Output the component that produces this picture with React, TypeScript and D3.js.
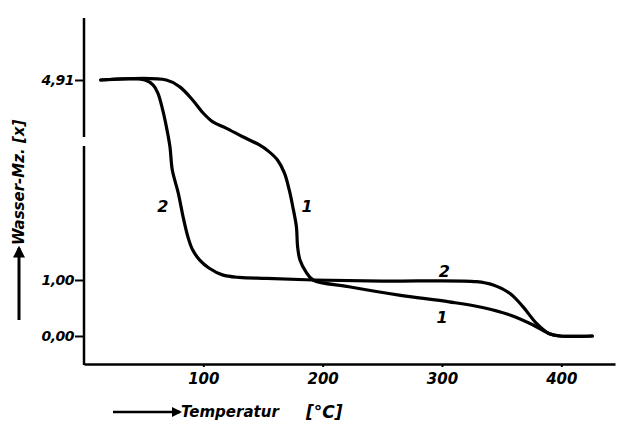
import { useEffect, useRef } from "react";
import * as d3 from "d3";

// Curve 1 (slow heating)
const temps1 = [14, 69, 80, 91, 100, 108, 119, 133, 147, 155, 162, 168, 172, 175, 178, 179, 181, 186, 192, 222, 264, 306, 334, 357, 376, 390, 399, 426];
const water1 = [4.91, 4.91, 4.78, 4.52, 4.26, 4.09, 3.97, 3.8, 3.64, 3.51, 3.35, 3.09, 2.76, 2.43, 2.04, 1.65, 1.39, 1.16, 1.0, 0.88, 0.73, 0.61, 0.51, 0.375, 0.2, 0.04, 0.0, 0.0];

// Curve 2 (fast heating)
const temps2 = [14, 51, 58, 62, 66, 69, 72, 74, 79, 83, 87, 91, 97, 105, 116, 130, 153, 192, 250, 329, 343, 357, 368, 379, 390, 399, 426];
const water2 = [4.91, 4.91, 4.81, 4.65, 4.32, 4.0, 3.61, 3.15, 2.7, 2.24, 1.85, 1.59, 1.39, 1.23, 1.1, 1.05, 1.03, 1.0, 0.98, 0.97, 0.91, 0.76, 0.52, 0.23, 0.04, 0.0, 0.0];

const xTicks = [100, 200, 300, 400];
const yTicks = [0, 1, 4.91];
const yTickLabels = ["0,00", "1,00", "4,91"];

const App = () => {
  const ref = useRef<SVGSVGElement | null>(null);

  useEffect(() => {
    const svg = d3.select(ref.current);
    svg.selectAll("*").remove();

    const font = "'DejaVu Sans', sans-serif";

    // broken y axis: lower part 0..1, upper part 1..4.91 compressed
    const x = d3.scaleLinear().domain([0, 445]).range([84, 615]);
    const y = d3.scaleLinear().domain([0, 1, 4.91]).range([336, 280, 80]);

    // x axis
    const xAxis = svg
      .append("g")
      .attr("transform", `translate(0,364)`)
      .call(d3.axisBottom(x).tickValues(xTicks).tickSize(3).tickSizeOuter(0).tickPadding(6));
    xAxis.select(".domain").attr("stroke-width", 2.5);
    xAxis.selectAll(".tick line").attr("stroke-width", 2);
    xAxis
      .selectAll("text")
      .attr("font-family", font)
      .attr("font-size", 15)
      .attr("font-weight", "bold")
      .attr("font-style", "italic");

    // y axis
    const yAxis = svg
      .append("g")
      .attr("transform", `translate(84,0)`)
      .call(
        d3
          .axisLeft(y)
          .tickValues(yTicks)
          .tickFormat((d, i) => yTickLabels[i])
          .tickSize(9)
          .tickPadding(1)
      );
    yAxis.select(".domain").remove();
    yAxis.selectAll(".tick line").attr("stroke-width", 2);
    yAxis
      .selectAll("text")
      .attr("font-family", font)
      .attr("font-size", 14)
      .attr("font-weight", "bold")
      .attr("font-style", "italic")
      .attr("letter-spacing", -0.5);

    // y axis line with break
    svg.append("line").attr("x1", 84).attr("x2", 84).attr("y1", 18).attr("y2", 137).attr("stroke", "#000").attr("stroke-width", 2.5);
    svg.append("line").attr("x1", 84).attr("x2", 84).attr("y1", 146).attr("y2", 365).attr("stroke", "#000").attr("stroke-width", 2.5);

    const line = d3
      .line<[number, number]>()
      .x((d) => x(d[0]))
      .y((d) => y(d[1]))
      .curve(d3.curveCatmullRom.alpha(0.5));

    const series = [
      temps1.map((t, i) => [t, water1[i]] as [number, number]),
      temps2.map((t, i) => [t, water2[i]] as [number, number]),
    ];

    svg
      .selectAll("path.curve")
      .data(series)
      .enter()
      .append("path")
      .attr("class", "curve")
      .attr("d", (d) => line(d))
      .attr("fill", "none")
      .attr("stroke", "#000")
      .attr("stroke-width", 3.2)
      .attr("stroke-linejoin", "round")
      .attr("stroke-linecap", "round");

    // curve labels
    const labels = [
      { t: "2", x: 66, y: 2.43 },
      { t: "1", x: 187, y: 2.43 },
      { t: "2", x: 302, y: 1.16 },
      { t: "1", x: 300, y: 0.34 },
    ];
    svg
      .selectAll("text.lbl")
      .data(labels)
      .enter()
      .append("text")
      .attr("class", "lbl")
      .attr("x", (d) => x(d.x))
      .attr("y", (d) => y(d.y))
      .attr("text-anchor", "middle")
      .attr("dy", "0.35em")
      .attr("font-family", font)
      .attr("font-size", 16)
      .attr("font-weight", "bold")
      .attr("font-style", "italic")
      .text((d) => d.t);

    // arrow marker
    svg
      .append("defs")
      .append("marker")
      .attr("id", "arr")
      .attr("viewBox", "0 0 10 10")
      .attr("refX", 8)
      .attr("refY", 5)
      .attr("markerWidth", 4)
      .attr("markerHeight", 4)
      .attr("orient", "auto")
      .append("path")
      .attr("d", "M0,0L10,5L0,10z")
      .attr("fill", "#000");

    // x axis title
    svg.append("line").attr("x1", 113).attr("x2", 180).attr("y1", 412).attr("y2", 412).attr("stroke", "#000").attr("stroke-width", 2.5).attr("marker-end", "url(#arr)");
    svg
      .append("text")
      .attr("x", 181)
      .attr("y", 417)
      .attr("font-family", font)
      .attr("font-size", 15)
      .attr("font-weight", "bold")
      .attr("font-style", "italic")
      .text("Temperatur");
    svg
      .append("text")
      .attr("x", 306)
      .attr("y", 418)
      .attr("font-family", font)
      .attr("font-size", 17)
      .attr("font-weight", "bold")
      .attr("font-style", "italic")
      .text("[°C]");

    // y axis title
    svg.append("line").attr("x1", 19).attr("x2", 19).attr("y1", 320).attr("y2", 248).attr("stroke", "#000").attr("stroke-width", 3).attr("marker-end", "url(#arr)");
    svg
      .append("text")
      .attr("transform", "translate(24,245) rotate(-90)")
      .attr("font-family", font)
      .attr("font-size", 15)
      .attr("font-weight", "bold")
      .attr("font-style", "italic")
      .text("Wasser-Mz. [x]");
  }, []);

  return (
    <svg
      ref={ref}
      width={620}
      height={422}
      style={{ position: "absolute", left: 0, top: 0, background: "#fff" }}
    />
  );
};

export default App;
